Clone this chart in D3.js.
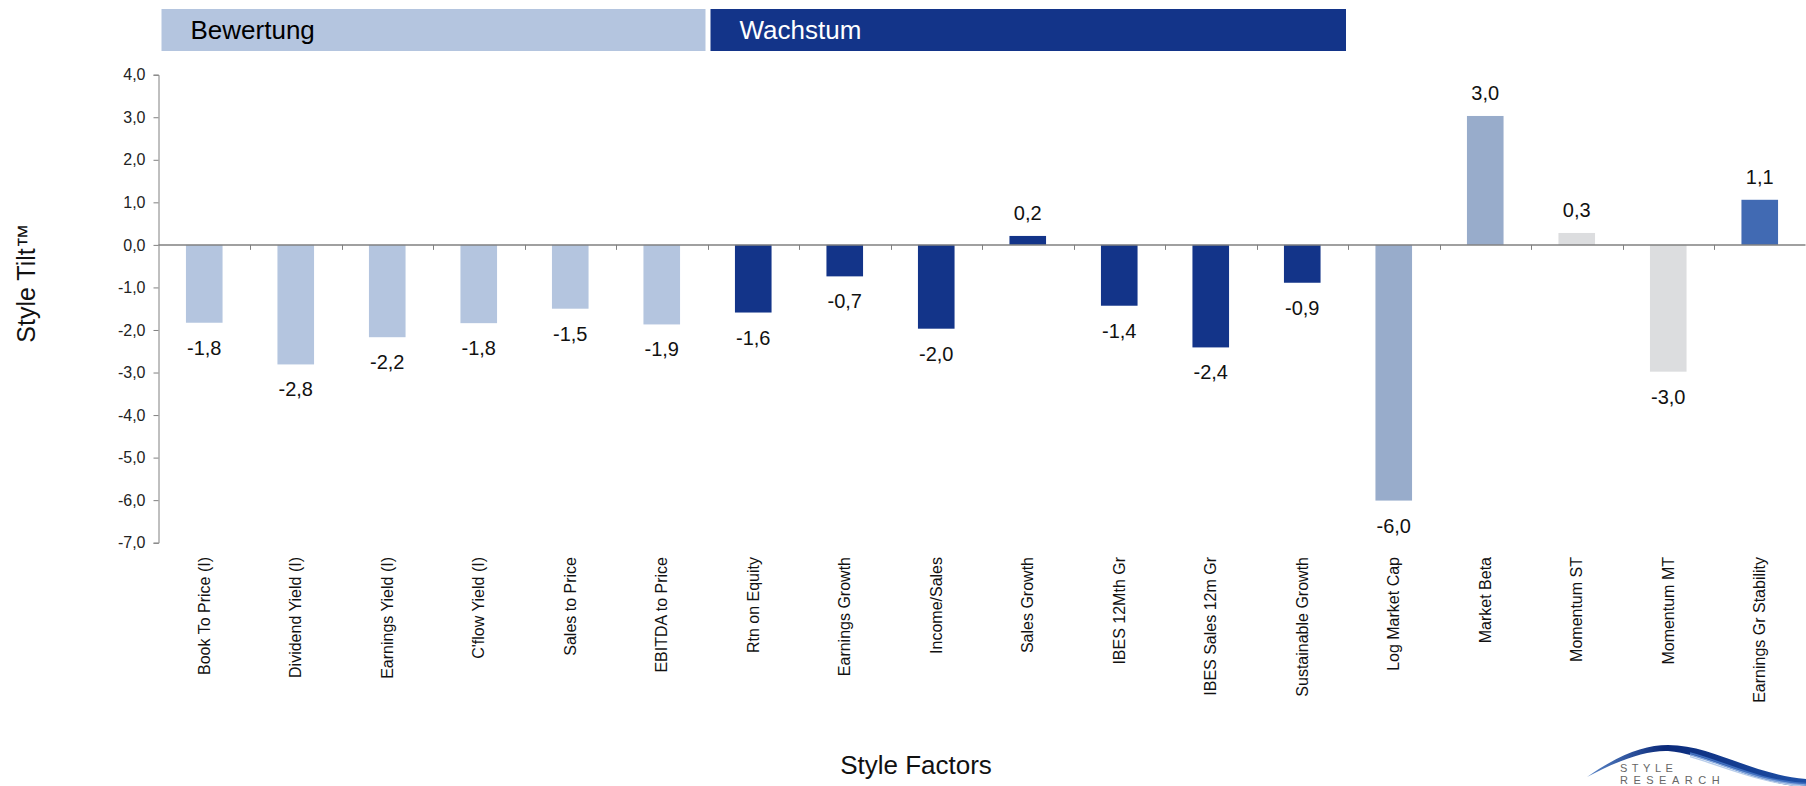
<!DOCTYPE html>
<html>
<head>
<meta charset="utf-8">
<script src="https://cdn.jsdelivr.net/npm/d3@7"></script>
<style>
  body { margin: 0; background: #fff; }
  svg { display: block; font-family: Arial, "Liberation Sans", sans-serif; }
</style>
</head>
<body>
<script>
// Style factors along the x axis
var factors = [
  'Book To Price (I)', 'Dividend Yield (I)', 'Earnings Yield (I)', "C'flow Yield (I)",
  'Sales to Price', 'EBITDA to Price', 'Rtn on Equity', 'Earnings Growth',
  'Income/Sales', 'Sales Growth', 'IBES 12Mth Gr', 'IBES Sales 12m Gr',
  'Sustainable Growth', 'Log Market Cap', 'Market Beta', 'Momentum ST',
  'Momentum MT', 'Earnings Gr Stability'
];

// Style tilt per factor
var tilts = [-1.83, -2.81, -2.17, -1.84, -1.50, -1.87, -1.59, -0.74, -1.97,
  0.21, -1.43, -2.41, -0.89, -6.01, 3.03, 0.28, -2.98, 1.06];

// Which colour family each bar belongs to
var groups = ['value', 'value', 'value', 'value', 'value', 'value',
  'growth', 'growth', 'growth', 'growth', 'growth', 'growth', 'growth',
  'size', 'beta', 'momentum', 'momentum', 'stability'];

// Header bands over the first two groups: label, first factor, last factor
var headerNames = ['Bewertung', 'Wachstum'];
var headerFirst = ['Book To Price (I)', 'Rtn on Equity'];
var headerLast = ['EBITDA to Price', 'Sustainable Growth'];

var yTicks = [4, 3, 2, 1, 0, -1, -2, -3, -4, -5, -6, -7];

var colors = {
  value: '#b4c5df', growth: '#133489', size: '#98accb',
  beta: '#98accb', momentum: '#dcdddf', stability: '#416ab3'
};
var headerFill = ['#b4c5df', '#133489'];
var headerText = ['#000', '#fff'];

var width = 1806, height = 786;

var de = d3.formatLocale({ decimal: ',', thousands: '.', grouping: [3], currency: ['', ' €'], minus: '-' });
var fmt = de.format('.1f');

var x = d3.scaleBand()
  .domain(factors)
  .range([158.5, 1805.5])
  .paddingInner(0.6)
  .paddingOuter(0.3);

var y = d3.scaleLinear()
  .domain([-7, 4])
  .range([542.7, 74.7]);

var step = x.step();
var center = function(f) { return x(f) + x.bandwidth() / 2; };

var svg = d3.select('body').append('svg')
  .attr('width', width)
  .attr('height', height);

// Header bands
var hdr = svg.selectAll('.hdr')
  .data(headerNames)
  .enter()
  .append('g')
  .attr('class', 'hdr');

hdr.append('rect')
  .attr('x', function(d, i) { return center(headerFirst[i]) - step / 2 + 3; })
  .attr('y', 9)
  .attr('width', function(d, i) { return center(headerLast[i]) - center(headerFirst[i]) + step - 5; })
  .attr('height', 42)
  .attr('fill', function(d, i) { return headerFill[i]; });

hdr.append('text')
  .attr('x', function(d, i) { return center(headerFirst[i]) - step / 2 + 32; })
  .attr('y', 39)
  .attr('font-size', 26)
  .attr('fill', function(d, i) { return headerText[i]; })
  .text(function(d) { return d; });

// Bars
svg.selectAll('.bar')
  .data(factors)
  .enter()
  .append('rect')
  .attr('class', 'bar')
  .attr('x', function(d) { return x(d); })
  .attr('width', x.bandwidth())
  .attr('y', function(d, i) { return y(Math.max(0, tilts[i])); })
  .attr('height', function(d, i) { return Math.abs(y(tilts[i]) - y(0)); })
  .attr('fill', function(d, i) { return colors[groups[i]]; });

// Value labels
svg.selectAll('.val')
  .data(factors)
  .enter()
  .append('text')
  .attr('class', 'val')
  .attr('x', function(d) { return center(d); })
  .attr('y', function(d, i) { return tilts[i] >= 0 ? y(tilts[i]) - 16 : y(tilts[i]) + 32; })
  .attr('text-anchor', 'middle')
  .attr('font-size', 20)
  .attr('fill', '#111')
  .text(function(d, i) { return fmt(tilts[i]); });

// Y axis
var yAxis = svg.append('g')
  .attr('class', 'y-axis')
  .attr('transform', 'translate(158.5,0)')
  .call(d3.axisLeft(y).tickValues(yTicks).tickSize(5).tickPadding(8).tickFormat(fmt));

yAxis.select('.domain').attr('stroke', '#808080');
yAxis.selectAll('.tick line').attr('stroke', '#808080');
yAxis.selectAll('.tick text')
  .attr('font-size', 16)
  .attr('font-family', 'Arial, "Liberation Sans", sans-serif')
  .attr('fill', '#222');

// Zero line with category dividers
svg.append('line')
  .attr('x1', 158.5)
  .attr('x2', 1805.5)
  .attr('y1', y(0))
  .attr('y2', y(0))
  .attr('stroke', '#808080')
  .attr('stroke-width', 1.5);

svg.selectAll('.divider')
  .data(factors.slice(1))
  .enter()
  .append('line')
  .attr('class', 'divider')
  .attr('x1', function(d) { return Math.round(center(d) - step / 2) + 0.5; })
  .attr('x2', function(d) { return Math.round(center(d) - step / 2) + 0.5; })
  .attr('y1', y(0))
  .attr('y2', y(0) + 5)
  .attr('stroke', '#808080');

// Category labels
svg.selectAll('.cat')
  .data(factors)
  .enter()
  .append('text')
  .attr('class', 'cat')
  .attr('transform', function(d) { return 'translate(' + (center(d) + 5.5) + ',557) rotate(-90)'; })
  .attr('text-anchor', 'end')
  .attr('font-size', 16)
  .attr('fill', '#111')
  .text(function(d) { return d; });

// Axis titles
svg.append('text')
  .attr('transform', 'translate(35,283) rotate(-90)')
  .attr('text-anchor', 'middle')
  .attr('font-size', 25)
  .attr('fill', '#111')
  .text('Style Tilt\u2122');

svg.append('text')
  .attr('x', 916)
  .attr('y', 774)
  .attr('text-anchor', 'middle')
  .attr('font-size', 26)
  .attr('fill', '#111')
  .text('Style Factors');

// Logo in the corner
var logo = svg.append('g').attr('class', 'logo');

var grad = svg.append('defs').append('linearGradient')
  .attr('id', 'swoosh')
  .attr('x1', '0').attr('x2', '1').attr('y1', '0').attr('y2', '0');
grad.append('stop').attr('offset', '0').attr('stop-color', '#5a86c8');
grad.append('stop').attr('offset', '0.35').attr('stop-color', '#0b2a7a');
grad.append('stop').attr('offset', '1').attr('stop-color', '#1d4fa6');

logo.append('path')
  .attr('d', function() {
    var p = d3.path();
    p.moveTo(1587, 777);
    p.bezierCurveTo(1620, 754, 1645, 745, 1668, 745);
    p.bezierCurveTo(1712, 745, 1750, 774, 1806, 779);
    p.lineTo(1806, 787);
    p.bezierCurveTo(1752, 784, 1712, 755, 1668, 751);
    p.bezierCurveTo(1645, 750, 1615, 762, 1587, 777);
    p.closePath();
    return p.toString();
  })
  .attr('fill', 'url(#swoosh)');

var strands = [
  { c: '#3f6fc0', d: 5 },
  { c: '#7ea3dc', d: 8 },
  { c: '#b8cdea', d: 11 }
];
logo.selectAll('.strand')
  .data(strands)
  .enter()
  .append('path')
  .attr('class', 'strand')
  .attr('d', function(s) {
    var p = d3.path();
    p.moveTo(1690, 750 + s.d * 0.6);
    p.bezierCurveTo(1725, 758 + s.d * 0.8, 1760, 780 + s.d * 0.3, 1806, 781 + s.d * 0.5);
    return p.toString();
  })
  .attr('fill', 'none')
  .attr('stroke', function(s) { return s.c; })
  .attr('stroke-width', 1.5);

logo.append('text')
  .attr('x', 1620)
  .attr('y', 772)
  .attr('font-size', 11)
  .attr('letter-spacing', 4.5)
  .attr('fill', '#666')
  .text('STYLE');

logo.append('text')
  .attr('x', 1620)
  .attr('y', 784)
  .attr('font-size', 11)
  .attr('letter-spacing', 5.5)
  .attr('fill', '#666')
  .text('RESEARCH');
</script>
</body>
</html>
